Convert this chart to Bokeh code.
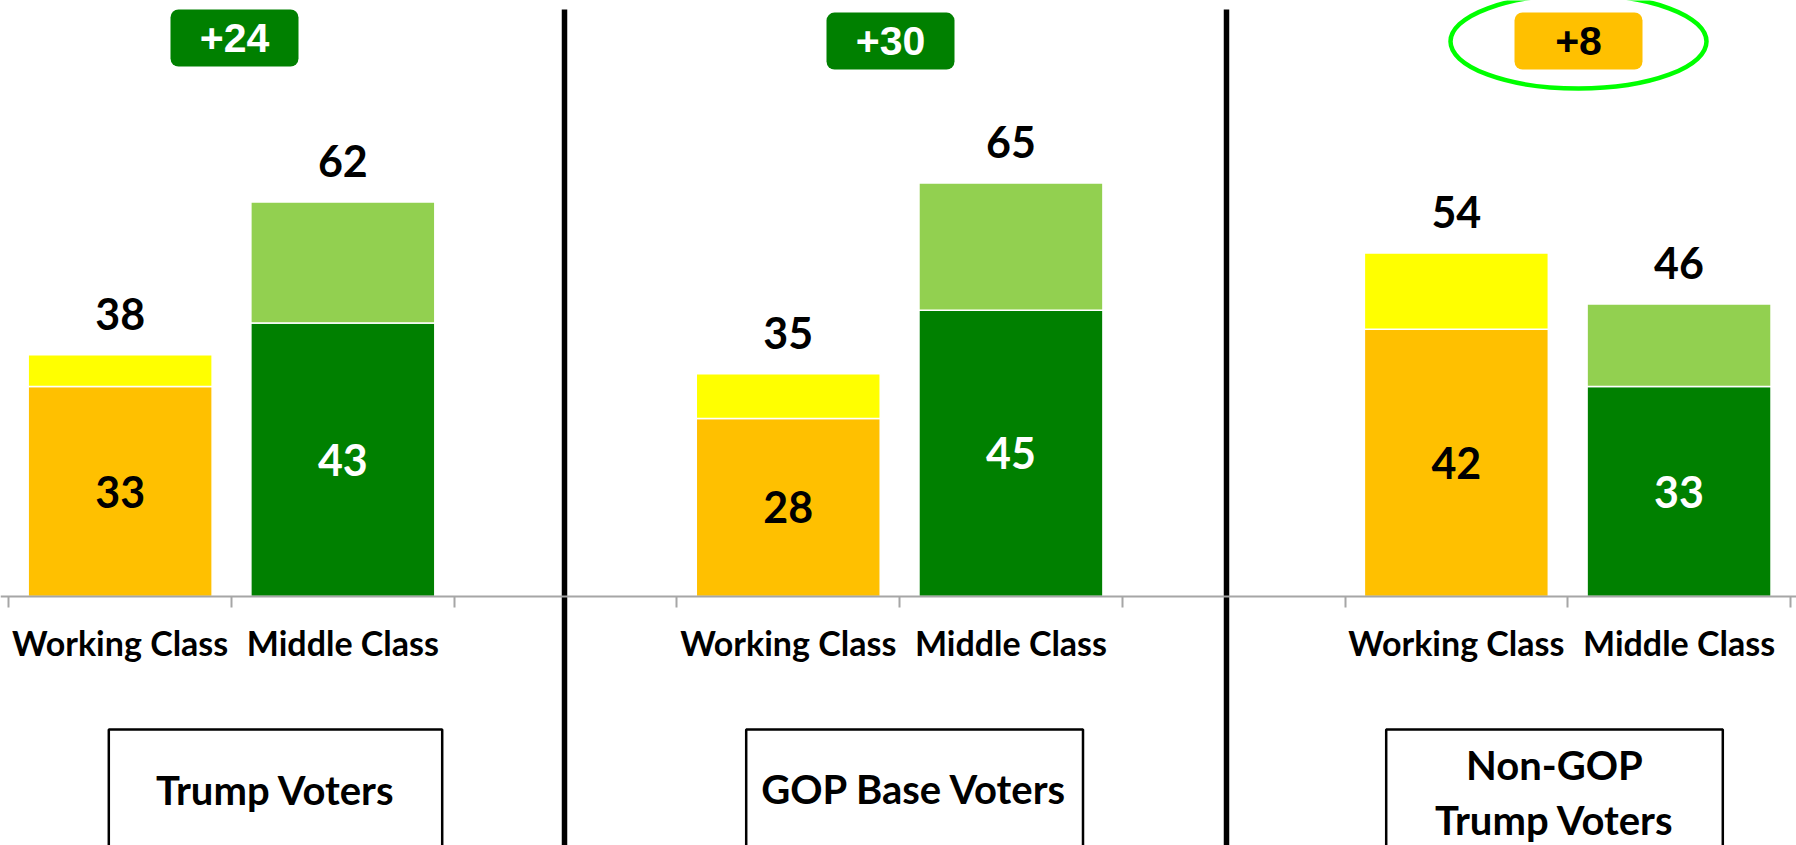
from bokeh.plotting import figure
from bokeh.models import Range1d, FixedTicker, LinearAxis
from bokeh.core.properties import value
from bokeh.embed import file_html
from bokeh.resources import INLINE

# ---- data ----
groups = ["Trump Voters", "GOP Base Voters", "Non-GOP\nTrump Voters"]
classes = ["Working Class", "Middle Class"]
wc_strong = [33, 28, 42]
wc_total = [38, 35, 54]
mc_strong = [43, 45, 33]
mc_total = [62, 65, 46]
gap_labels = ["+24", "+30", "+8"]

# ---- layout constants ----
W, H = 1796, 845
PX_SLOT = 222.7
PX_UNIT = 6.361
X0 = -8.3 / PX_SLOT
Y_TOP = 596 / PX_UNIT
Y_BOT = Y_TOP - H / PX_UNIT


def dx(px):
    return X0 + px / PX_SLOT


def dy(py):
    return Y_TOP - py / PX_UNIT


ORANGE = "#FFC000"
YELLOW = "#FFFF00"
DGREEN = "#008000"
LGREEN = "#92D050"
FONT = "Lato"

p = figure(width=W, height=H,
           x_range=Range1d(X0, X0 + W / PX_SLOT),
           y_range=Range1d(Y_BOT, Y_TOP),
           output_backend="svg", toolbar_location=None,
           x_axis_location=None, y_axis_location=None,
           min_border=0, outline_line_color=None,
           background_fill_color="white", border_fill_color="white")
p.grid.visible = False

wc_x = [3 * i + 0.5 for i in range(len(groups))]
mc_x = [3 * i + 1.5 for i in range(len(groups))]
BW = 0.826

# dividers
p.segment(x0=[dx(564), dx(1226)], y0=[Y_BOT - 5] * 2,
          x1=[dx(564), dx(1226)], y1=[dy(9)] * 2,
          line_color="black", line_width=5.5)

# stacked bars
p.vbar(x=wc_x, width=BW, bottom=0, top=wc_strong, fill_color=ORANGE,
       line_color="white", line_width=1.5)
p.vbar(x=wc_x, width=BW, bottom=wc_strong, top=wc_total, fill_color=YELLOW,
       line_color="white", line_width=1.5)
p.vbar(x=mc_x, width=BW, bottom=0, top=mc_strong, fill_color=DGREEN,
       line_color="white", line_width=1.5)
p.vbar(x=mc_x, width=BW, bottom=mc_strong, top=mc_total, fill_color=LGREEN,
       line_color="white", line_width=1.5)

# value labels
NUM_SIZE = "43px"
off = 41 / PX_UNIT
p.text(x=wc_x + mc_x, y=[t + off for t in wc_total + mc_total],
       text=[str(v) for v in wc_total + mc_total],
       text_align="center", text_baseline="middle", text_color="black",
       text_font=value(FONT), text_font_style="bold", text_font_size=NUM_SIZE)
p.text(x=wc_x, y=[v / 2 for v in wc_strong], text=[str(v) for v in wc_strong],
       text_align="center", text_baseline="middle", text_color="black",
       text_font=value(FONT), text_font_style="bold", text_font_size=NUM_SIZE)
p.text(x=mc_x, y=[v / 2 for v in mc_strong], text=[str(v) for v in mc_strong],
       text_align="center", text_baseline="middle", text_color="white",
       text_font=value(FONT), text_font_style="bold", text_font_size=NUM_SIZE)

# axes: tick axis (slot boundaries) + label axis (slot centres)
tick_axis = LinearAxis(ticker=FixedTicker(ticks=list(range(9))), fixed_location=0,
                       axis_line_color="#A6A6A6", axis_line_width=2,
                       major_tick_line_color="#A6A6A6", major_tick_line_width=2,
                       major_tick_in=0, major_tick_out=11,
                       minor_tick_line_color=None,
                       major_label_text_color=None, major_label_text_font_size="1px")
label_ticks = sorted(wc_x + mc_x)
overrides = {}
for i in range(len(groups)):
    overrides[wc_x[i]] = classes[0]
    overrides[mc_x[i]] = classes[1]
label_axis = LinearAxis(ticker=FixedTicker(ticks=label_ticks), fixed_location=0,
                        axis_line_color=None, major_tick_line_color=None,
                        minor_tick_line_color=None, major_tick_in=0, major_tick_out=0,
                        major_label_overrides=overrides,
                        major_label_standoff=25,
                        major_label_text_font=FONT,
                        major_label_text_font_style="bold",
                        major_label_text_font_size="34px",
                        major_label_text_color="black")
p.add_layout(tick_axis, "below")
p.add_layout(label_axis, "below")

# gap badges
bx = [dx(234), dx(890), dx(1578)]
by = [dy(37.5), dy(40.6), dy(40.5)]
bfill = [DGREEN if m > w else ORANGE for m, w in zip(mc_total, wc_total)]
btext = ["white" if m > w else "black" for m, w in zip(mc_total, wc_total)]
hw = 64 / PX_SLOT
hh = 28.5 / PX_UNIT
qkw = dict(left=[x - hw for x in bx], right=[x + hw for x in bx],
           bottom=[y - hh for y in by], top=[y + hh for y in by],
           fill_color=bfill, line_color=None)
try:
    p.quad(border_radius=8, **qkw)
except Exception:
    p.quad(**qkw)
p.text(x=bx, y=by, text=gap_labels, text_color=btext,
       text_align="center", text_baseline="middle",
       text_font=value("Liberation Sans"), text_font_style="bold",
       text_font_size="41px")

# highlight ellipse around the group where working class wins
hi = [i for i in range(len(groups)) if wc_total[i] > mc_total[i]]
p.ellipse(x=[bx[i] for i in hi], y=[dy(41)] * len(hi), width=256, height=94,
          width_units="screen", height_units="screen",
          fill_color=None, line_color="#00FF00", line_width=4.5)

# group boxes
p.quad(left=[dx(108.3), dx(745.7), dx(1385.7)],
       right=[dx(441.7), dx(1082.5), dx(1722.3)],
       top=[dy(729)] * 3, bottom=[Y_BOT - 10] * 3,
       fill_color="white", line_color="black", line_width=2.5)
p.text(x=[dx(275), dx(914), dx(1554)], y=[dy(789), dy(788.5), dy(792)],
       text=groups, text_align="center", text_baseline="middle",
       text_color="black", text_font=value(FONT), text_font_style="bold",
       text_font_size="40px", text_line_height=46 / 40)

open("out.html", "w").write(file_html(p, INLINE))
